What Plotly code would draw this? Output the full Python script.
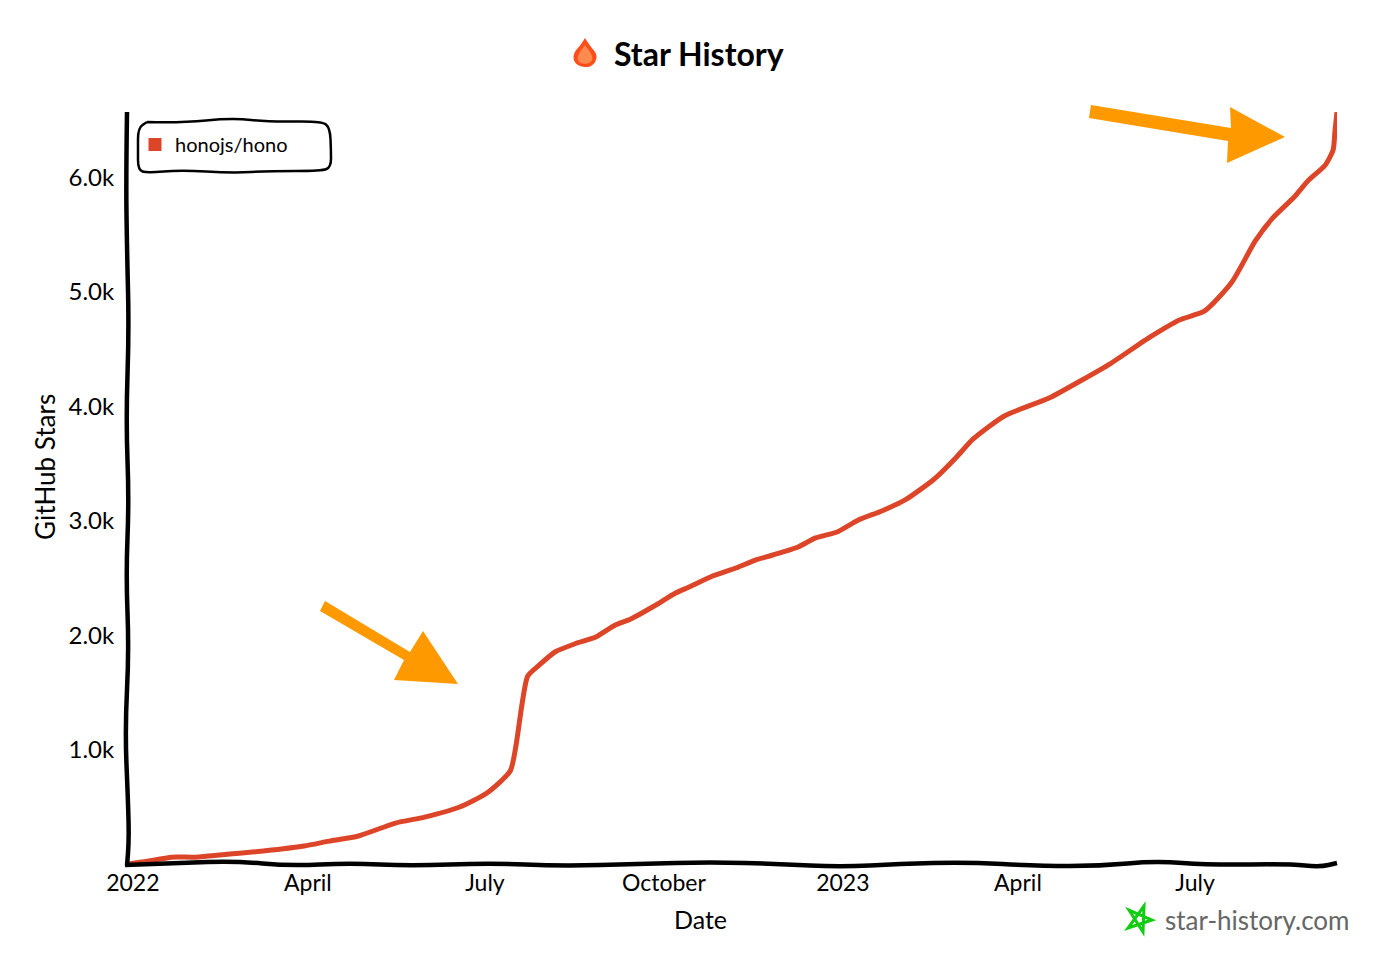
#! python3

# Star history chart for honojs/hono, hand drawn look
import plotly.graph_objs as go

# data
dates = ['2021-12-29', '2022-01-07', '2022-01-21', '2022-02-02', '2022-02-20', '2022-03-10',
         '2022-03-30', '2022-04-12', '2022-04-27', '2022-05-16', '2022-05-31', '2022-06-18',
         '2022-07-02', '2022-07-14', '2022-07-17', '2022-07-20', '2022-07-23', '2022-07-29',
         '2022-08-06', '2022-08-16', '2022-08-27', '2022-09-06', '2022-09-14', '2022-09-26',
         '2022-10-07', '2022-10-14', '2022-10-26', '2022-11-07', '2022-11-17', '2022-11-26',
         '2022-12-09', '2022-12-18', '2022-12-29', '2023-01-09', '2023-01-21', '2023-02-02',
         '2023-02-17', '2023-02-28', '2023-03-09', '2023-03-25', '2023-04-17', '2023-05-03',
         '2023-05-19', '2023-06-08', '2023-06-23', '2023-07-06', '2023-07-20', '2023-08-01',
         '2023-08-10', '2023-08-21', '2023-08-28', '2023-09-06', '2023-09-10', '2023-09-11',
         '2023-09-12']
stars = [0, 20, 60, 60, 87, 115,
         157, 200, 245, 358, 410, 498,
         620, 813, 1040, 1390, 1643, 1740,
         1853, 1923, 1984, 2089, 2142, 2255,
         2369, 2421, 2517, 2587, 2657, 2701,
         2771, 2850, 2902, 3007, 3086, 3182,
         3365, 3549, 3715, 3916, 4073, 4222,
         4379, 4607, 4755, 4834, 5087, 5446,
         5647, 5830, 5970, 6110, 6241, 6416,
         6573]

x_ticks = ['2022-01-01', '2022-04-01', '2022-07-01', '2022-10-01', '2023-01-01', '2023-04-01', '2023-07-01']
x_labels = ['2022', 'April', 'July', 'October', '2023', 'April', 'July']
y_ticks = [1000, 2000, 3000, 4000, 5000, 6000]
y_labels = ['1.0k', '2.0k', '3.0k', '4.0k', '5.0k', '6.0k']

repo = 'honojs/hono'
line_col = '#dd4528'
arrow_col = '#ff9900'
font = 'Lato'

# the page body adds 8px around the figure
OFF = 8
W, H = 1400 - 2 * OFF, 975 - 2 * OFF
# plot area in page pixels
LEFT, RIGHT, TOP, BOTTOM = 127, 1337, 112, 864


def px(x, y):
    # page pixels to paper coords
    return (x - LEFT) / (RIGHT - LEFT), (BOTTOM - y) / (BOTTOM - TOP)


def path(points, close=False, smooth=False):
    pts = [px(a, b) for a, b in points]
    d = 'M%.5f,%.5f' % pts[0]
    if smooth:
        # quadratic through midpoints, gives the wobble
        for i in range(1, len(pts) - 1):
            mid = ((pts[i][0] + pts[i + 1][0]) / 2, (pts[i][1] + pts[i + 1][1]) / 2)
            d += ' Q%.5f,%.5f %.5f,%.5f' % (pts[i][0], pts[i][1], mid[0], mid[1])
        d += ' L%.5f,%.5f' % pts[-1]
    else:
        for p in pts[1:]:
            d += ' L%.5f,%.5f' % p
    if close:
        d += ' Z'
    return d


def deco(d, line='black', width=0, fill=None):
    s = dict(type='path', xref='paper', yref='paper', path=d, layer='above',
             line=dict(color=line, width=width))
    if fill:
        s['fillcolor'] = fill
    return s


shapes = []

# wobbly axes
shapes.append(deco(path([(127, 112), (126, 180), (127, 250), (129, 330), (126, 420), (129, 500), (126, 575),
                         (129, 650), (125, 730), (128, 800), (129, 840), (127, 866)], smooth=True), width=4.5))
shapes.append(deco(path([(125, 865), (180, 863), (235, 861), (290, 866), (350, 863), (410, 866), (490, 863),
                         (560, 866), (640, 864), (710, 862), (780, 864), (840, 867), (900, 864), (965, 862),
                         (1040, 866), (1100, 866), (1155, 861), (1210, 865), (1290, 864), (1320, 867), (1337, 863)],
                        smooth=True), width=4.5))

# legend box
shapes.append(deco(path([(147, 122), (180, 123), (232, 118), (270, 122), (322, 121), (330, 128), (331, 150),
                         (331, 167), (322, 171), (270, 171), (232, 173), (180, 170), (147, 173), (138, 170),
                         (138, 150), (138, 128), (147, 122)], smooth=True), width=2.5, fill='white'))

# arrows
shapes.append(deco(path([(1091, 105), (1231, 128), (1230, 107), (1285, 137), (1227, 163), (1228, 141), (1089, 118)],
                        close=True), line=arrow_col, fill=arrow_col))
shapes.append(deco(path([(325, 601), (410, 652), (423, 631), (458, 684), (394, 680), (404, 660), (320, 611)],
                        close=True), line=arrow_col, fill=arrow_col))

# flame in the title
shapes.append(deco(path([(585, 38), (590, 46), (597, 54), (596, 62), (590, 67), (585, 67), (578, 66), (573, 60),
                         (574, 52), (580, 46), (585, 38)], smooth=True), line='#ff4e1a', fill='#ff4e1a'))
shapes.append(deco(path([(585, 45), (591, 53), (593, 59), (590, 63), (585, 64), (580, 63), (577, 59), (579, 53),
                         (585, 45)], smooth=True), line='#ff8a50', fill='#ff8a50'))

# star logo
shapes.append(deco(path([(1144, 906), (1128, 928), (1152, 920), (1129, 910), (1143, 932)], close=True),
                   line='#11cc11', width=3))

fig = go.Figure()
fig.add_trace(go.Scatter(x=dates, y=stars, mode='lines', showlegend=False,
                         line=dict(color=line_col, width=5, shape='spline', smoothing=0.6)))
# square legend swatch
fig.add_trace(go.Scatter(x=[None], y=[None], mode='markers', name=repo,
                         marker=dict(color=line_col, size=13, symbol='square')))

fig.update_layout(
    width=W, height=H,
    margin=dict(l=LEFT - OFF, r=W - (RIGHT - OFF), t=TOP - OFF, b=H - (BOTTOM - OFF)),
    plot_bgcolor='white', paper_bgcolor='white',
    font=dict(family=font, color='black', size=22),
    shapes=shapes,
    legend=dict(x=px(135, 0)[0], y=px(0, 125)[1], xanchor='left', yanchor='top', bgcolor='rgba(0,0,0,0)',
                font=dict(size=20), itemwidth=30),
    xaxis=dict(range=['2021-12-29', '2023-09-12'], tickvals=x_ticks, ticktext=x_labels, showgrid=False,
               zeroline=False, showline=False, ticks='', tickangle=0, tickfont=dict(size=23),
               ticklabelstandoff=3),
    yaxis=dict(range=[0, 6573], tickvals=y_ticks, ticktext=y_labels, showgrid=False, zeroline=False,
               showline=False, ticks='outside', ticklen=7, tickcolor='white', tickfont=dict(size=24)),
    annotations=[
        dict(text='<b>Star History</b>', xref='paper', yref='paper', x=px(612, 0)[0], y=px(0, 54)[1],
             xanchor='left', yanchor='middle', showarrow=False, font=dict(size=32)),
        dict(text='star-history.com', xref='paper', yref='paper', x=px(1163, 0)[0], y=px(0, 920)[1],
             xanchor='left', yanchor='middle', showarrow=False, font=dict(size=26, color='#666666')),
        dict(text='Date', xref='paper', yref='paper', x=px(700, 0)[0], y=px(0, 919)[1],
             xanchor='center', yanchor='middle', showarrow=False, font=dict(size=25)),
        dict(text='GitHub Stars', xref='paper', yref='paper', x=px(45, 0)[0], y=px(0, 467)[1], textangle=-90,
             xanchor='center', yanchor='middle', showarrow=False, font=dict(size=26)),
    ],
)

fig.write_html("out.html")
